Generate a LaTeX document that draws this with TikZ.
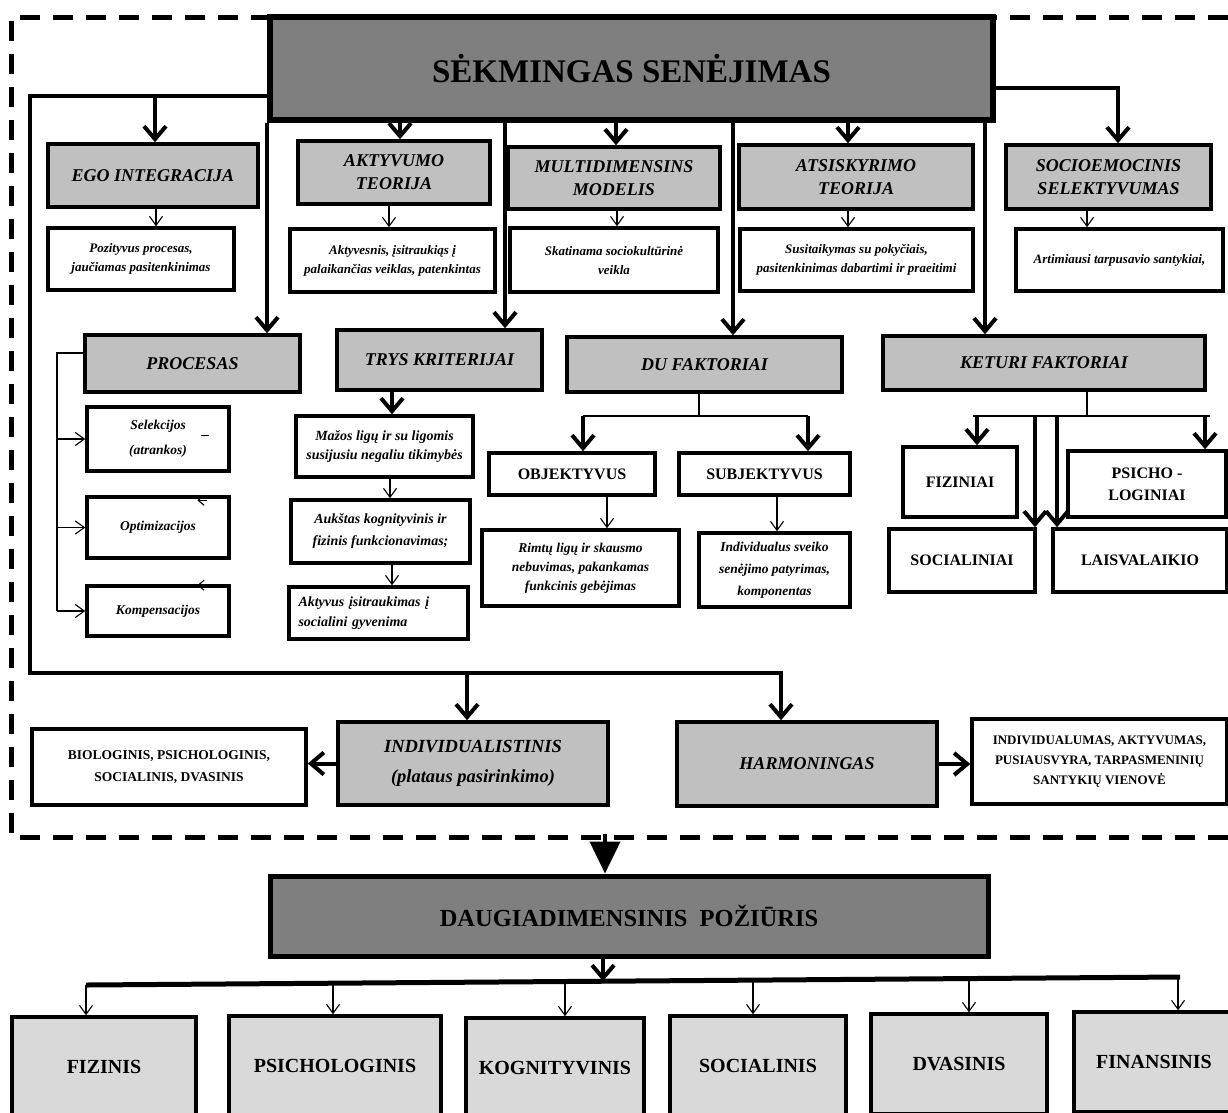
\documentclass[tikz,border=0pt]{standalone}
\usepackage{fontspec}
\setmainfont{Liberation Serif}
\usetikzlibrary{arrows.meta,calc}
\definecolor{dg}{HTML}{7F7F7F}
\definecolor{lg}{HTML}{C0C0C0}
\definecolor{vlg}{HTML}{D9D9D9}
\begin{document}
\begin{tikzpicture}[x=1pt,y=-1pt,
  conn/.style={line width=4pt},
  thinl/.style={line width=1.1pt},
  tb/.style={-{Straight Barb[length=13pt,width=22pt]}},
  sb/.style={-{Straight Barb[length=9pt,width=13pt]}},
  box/.style={draw, line width=3.5pt, inner sep=2pt, align=center, text=black},
  gbox/.style={box, fill=lg, font=\bfseries\itshape\fontsize{18}{23}\selectfont},
  wbox/.style={box, fill=white, font=\bfseries\itshape\fontsize{13}{19}\selectfont},
  mbox/.style={box, fill=white, font=\bfseries\itshape\fontsize{14}{20}\selectfont},
  ubox/.style={box, fill=white, font=\bfseries\fontsize{16}{22}\selectfont},
  bbox/.style={box, fill=vlg, font=\bfseries\fontsize{20}{24}\selectfont},
  sz/.style 2 args={minimum width=#1pt, minimum height=#2pt}
]
\useasboundingbox (0,0) rectangle (1228,1112);
\fill[white] (0,0) rectangle (1228,1112);

% dashed frame
\draw[line width=5pt, dash pattern=on 20pt off 13pt] (1228,17) -- (11,17) -- (11,837) -- (1228,837);

% main box
\node[box, line width=6pt, fill=dg, sz={723}{103}, font=\bfseries\fontsize{33}{40}\selectfont] (main) at (631.5,68.5) {SĖKMINGAS SENĖJIMAS};

% row 1 gray
\node[gbox, sz={210}{63}] (ego) at (153,175.5) {EGO INTEGRACIJA};
\node[gbox, sz={192}{63}] (akt) at (394,172.5) {AKTYVUMO\\TEORIJA};
\node[gbox, sz={212}{62}] (multi) at (614,178) {MULTIDIMENSINS\\MODELIS};
\node[gbox, sz={234}{64}] (atsi) at (856,177) {ATSISKYRIMO\\TEORIJA};
\node[gbox, sz={205}{64}] (socio) at (1108.5,177) {SOCIOEMOCINIS\\SELEKTYVUMAS};

% row 1 white
\node[wbox, sz={186}{62}] (pos) at (141,259) {Pozityvus procesas,\\jaučiamas pasitenkinimas};
\node[wbox, sz={205}{63}] (aktw) at (392.5,260.5) {Aktyvesnis, įsitraukiąs į\\palaikančias veiklas, patenkintas};
\node[wbox, sz={208}{64}] (multiw) at (614,260) {Skatinama sociokultūrinė\\veikla};
\node[wbox, sz={233}{62}] (atsiw) at (856.5,260) {Susitaikymas su pokyčiais,\\pasitenkinimas dabartimi ir praeitimi};
\node[wbox, sz={207}{62}] (sociow) at (1119.5,260) {Artimiausi tarpusavio santykiai,};

% row 2 gray
\node[gbox, sz={215}{57}] (procesas) at (192.5,363.5) {PROCESAS};
\node[gbox, sz={205}{60}] (trys) at (439.5,360) {TRYS KRITERIJAI};
\node[gbox, sz={275}{55}] (du) at (704.5,364.5) {DU FAKTORIAI};
\node[gbox, sz={322}{54}] (keturi) at (1044,363) {KETURI FAKTORIAI};

% procesas sub
\node[mbox, font=\bfseries\itshape\fontsize{13.5}{25}\selectfont, sz={142}{64}] (sel) at (158,439) {Selekcijos\\(atrankos)};
\node[mbox, font=\bfseries\itshape\fontsize{13.5}{25}\selectfont, sz={142}{61}] (opt) at (158,527.5) {Optimizacijos};
\node[mbox, font=\bfseries\itshape\fontsize{13.5}{25}\selectfont, sz={142}{50}] (komp) at (158,611) {Kompensacijos};
\node[font=\bfseries\fontsize{15}{15}\selectfont, inner sep=0pt] (seld) at (205,437) {–};

% trys sub
\node[mbox, font=\bfseries\itshape\fontsize{14}{19}\selectfont, sz={177}{61}] (m1) at (384.5,446.5) {Mažos ligų ir su ligomis\\susijusiu negaliu tikimybės};
\node[mbox, font=\bfseries\itshape\fontsize{14}{22}\selectfont, sz={179}{63}] (m2) at (380.5,531.5) {Aukštas kognityvinis ir\\fizinis funkcionavimas;};
\node[mbox, font=\bfseries\itshape\fontsize{14}{20}\selectfont, sz={179}{52}, text width=160pt, align=left] (m3) at (378.5,613) {Aktyvus įsitraukimas į\\socialini gyvenima};

% du sub
\node[ubox, sz={166}{42}] (obj) at (572,474) {OBJEKTYVUS};
\node[ubox, sz={171}{42}] (subj) at (764.5,474) {SUBJEKTYVUS};
\node[mbox, font=\bfseries\itshape\fontsize{13.5}{19}\selectfont, sz={197}{76}] (objw) at (580.5,568) {Rimtų ligų ir skausmo\\nebuvimas, pakankamas\\funkcinis gebėjimas};
\node[mbox, font=\bfseries\itshape\fontsize{13.5}{22}\selectfont, sz={151}{74}] (subjw) at (774.5,570) {Individualus sveiko\\senėjimo patyrimas,\\komponentas};

% keturi sub
\node[ubox, sz={114}{70}] (fiz) at (960,482) {FIZINIAI};
\node[ubox, sz={158}{66}] (psi) at (1147,484) {PSICHO -\\LOGINIAI};
\node[ubox, sz={146}{63}] (soc) at (962,560.5) {SOCIALINIAI};
\node[ubox, sz={174}{63}] (lais) at (1140,560.5) {LAISVALAIKIO};

% bottom of frame
\node[gbox, sz={270}{83}, font=\bfseries\itshape\fontsize{18.5}{30}\selectfont] (indiv) at (473,763.5) {INDIVIDUALISTINIS\\(plataus pasirinkimo)};
\node[ubox, sz={274}{76}, font=\bfseries\fontsize{13.5}{22}\selectfont] (biol) at (169,767) {BIOLOGINIS, PSICHOLOGINIS,\\SOCIALINIS, DVASINIS};
\node[gbox, sz={260}{84}] (harm) at (807,764) {HARMONINGAS};
\node[ubox, sz={255}{85}, font=\bfseries\fontsize{13}{20}\selectfont] (indiv2) at (1099.5,761.5) {INDIVIDUALUMAS, AKTYVUMAS,\\PUSIAUSVYRA, TARPASMENINIŲ\\SANTYKIŲ VIENOVĖ};

% daugiadimensinis
\node[box, line width=5pt, fill=dg, sz={718}{80}, font=\bfseries\fontsize{24.5}{30}\selectfont] (daug) at (629,916) {DAUGIADIMENSINIS\ \ POŽIŪRIS};

\node[bbox, sz={184}{100}] (f1) at (104,1067) {FIZINIS};
\node[bbox, sz={212}{100}] (f2) at (335,1066) {PSICHOLOGINIS};
\node[bbox, sz={178}{100}] (f3) at (555,1068) {KOGNITYVINIS};
\node[bbox, sz={176}{100}] (f4) at (758,1066) {SOCIALINIS};
\node[bbox, sz={176}{100}] (f5) at (959,1064) {DVASINIS};
\node[bbox, sz={160}{100}] (f6) at (1154,1062) {FINANSINIS};

% ---------- connectors ----------
\coordinate (L) at (30,96);
\coordinate (LB) at (30,673);
\draw[conn, tb] (main.west |- L) -- (L) -- (LB) -| (harm.north -| 781,0);
\draw[conn, tb] (LB -| 467,0) -- (indiv.north -| 467,0);
\draw[conn, tb] (L -| 155,0) -- (ego.north -| 155,0);

\draw[conn, tb] (main.south west) -- (main.south west |- procesas.north);
\draw[conn, tb] (main.south -| 400,0) -- (akt.north -| 400,0);
\draw[conn, tb] (main.south -| 505,0) -- (trys.north -| 505,0);
\draw[conn, tb] (main.south -| 616,0) -- (multi.north -| 616,0);
\draw[conn, tb] (main.south -| 733,0) -- (du.north -| 733,0);
\draw[conn, tb] (main.south -| 848,0) -- (atsi.north -| 848,0);
\draw[conn, tb] (main.south -| 985,0) -- (keturi.north -| 985,0);
\draw[conn, tb] (main.east |- 0,88) -| (socio.north -| 1118,0);

% gray -> white thin
\draw[thinl, sb] (ego.south -| 156,0) -- (pos.north -| 156,0);
\draw[thinl, sb] (akt.south -| 389,0) -- (aktw.north -| 389,0);
\draw[thinl, sb] (multi.south -| 617,0) -- (multiw.north -| 617,0);
\draw[thinl, sb] (atsi.south -| 848,0) -- (atsiw.north -| 848,0);
\draw[thinl, sb] (socio.south -| 1087,0) -- (sociow.north -| 1087,0);

% procesas bracket
\coordinate (bt) at (57,353);
\draw[thinl] (procesas.west |- bt) -- (bt) -- (bt |- komp.west);
\draw[thinl, sb] (bt |- sel.west) -- (sel.west);
\draw[thinl, sb] (bt |- opt.west) -- (opt.west);
\draw[thinl, sb] (bt |- komp.west) -- (komp.west);
\draw[thinl, -{Straight Barb[length=6pt,width=10pt]}] ($(opt.north west)+(122,5)$) -- ($(opt.north west)+(112,5)$);
\draw[thinl, -{Straight Barb[length=6pt,width=10pt]}] ($(komp.north west)+(122,1)$) -- ($(komp.north west)+(112,1)$);

% trys
\draw[conn, tb] (trys.south -| 392,0) -- (m1.north -| 392,0);
\draw[thinl, sb] (m1.south -| 390,0) -- (m2.north -| 390,0);
\draw[thinl, sb] (m2.south -| 392,0) -- (m3.north -| 392,0);

% du
\coordinate (dj) at (699,416);
\coordinate (dl) at (583,416);
\coordinate (dr) at (808,416);
\draw[thinl] (du.south -| dj) -- (dj);
\draw[thinl] (dl) -- (dr);
\draw[conn, tb] (dl) -- (obj.north -| dl);
\draw[conn, tb] (dr) -- (subj.north -| dr);
\draw[thinl, sb] (obj.south -| 607,0) -- (objw.north -| 607,0);
\draw[thinl, sb] (subj.south -| 777,0) -- (subjw.north -| 777,0);

% keturi
\coordinate (kj) at (1087,416);
\coordinate (kl) at (973,416);
\coordinate (kr) at (1210,416);
\draw[thinl] (keturi.south -| kj) -- (kj);
\draw[thinl] (kl) -- (kr);
\draw[conn, tb] (kl -| 977,0) -- (fiz.north -| 977,0);
\draw[conn, tb] (kl -| 1205,0) -- (psi.north -| 1205,0);
\draw[conn, tb] (kl -| 1035,0) -- (soc.north -| 1035,0);
\draw[conn, tb] (kl -| 1057,0) -- (lais.north -| 1057,0);

% bottom of frame
\draw[conn, tb] (indiv.west) -- (indiv.west -| biol.east);
\draw[conn, tb] (harm.east) -- (harm.east -| indiv2.west);

% big arrow to daug
\coordinate (fb) at (605,834);
\draw[line width=4pt, -{Triangle[length=32pt,width=30pt]}] (fb) -- (daug.north -| fb);

% daug branches
\coordinate (hl) at (86,985);
\coordinate (hr) at (1180,977);
\coordinate (pm) at ($(hl)!0.4726!(hr)$);
\draw[conn, tb] (daug.south -| pm) -- (pm);
\draw[line width=5pt] (hl) -- (hr);
\coordinate (p1) at (hl);
\coordinate (p2) at ($(hl)!0.2258!(hr)$);
\coordinate (p3) at ($(hl)!0.4378!(hr)$);
\coordinate (p4) at ($(hl)!0.6097!(hr)$);
\coordinate (p5) at ($(hl)!0.8071!(hr)$);
\coordinate (p6) at ($(hl)!0.9982!(hr)$);
\draw[thinl, sb] (p1) -- (f1.north -| p1);
\draw[thinl, sb] (p2) -- (f2.north -| p2);
\draw[thinl, sb] (p3) -- (f3.north -| p3);
\draw[thinl, sb] (p4) -- (f4.north -| p4);
\draw[thinl, sb] (p5) -- (f5.north -| p5);
\draw[thinl, sb] (p6) -- (f6.north -| p6);
\end{tikzpicture}
\end{document}
